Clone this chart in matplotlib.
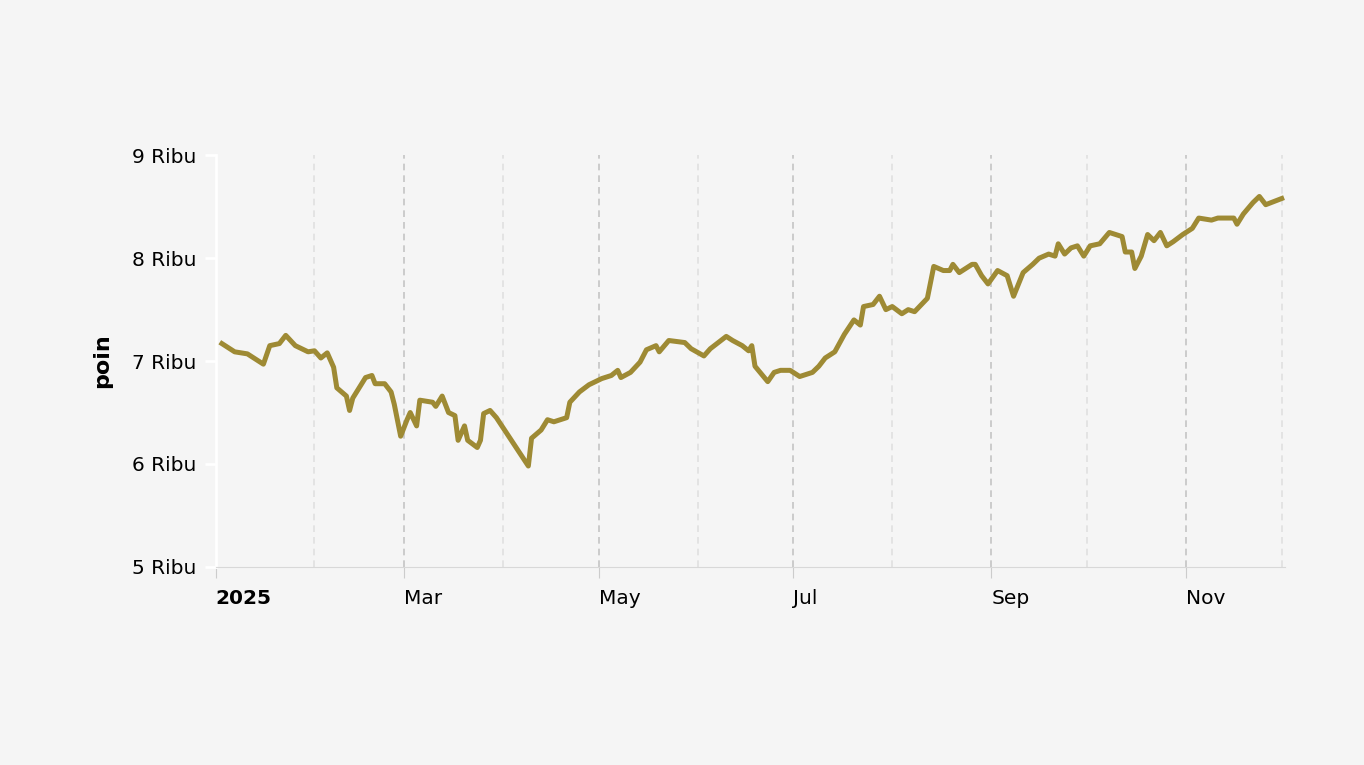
import matplotlib
matplotlib.use("Agg")
import matplotlib.pyplot as plt
import matplotlib.transforms as mtransforms
import pandas as pd

day_offsets = [2,6,10,13,15,17,20,22,25,29,31,33,35,37,38,41,42,43,45,47,49,50,53,55,56,58,60,61,63,64,68,69,71,73,75,76,78,79,82,83,84,86,88,98,99,102,104,106,110,111,114,117,121,124,126,127,130,133,135,138,139,142,147,149,153,155,160,162,165,167,168,169,173,175,177,180,183,187,189,191,194,197,200,202,203,206,208,210,212,215,217,219,223,225,228,230,231,233,235,237,238,240,242,245,248,250,253,256,258,261,263,264,266,268,270,272,274,277,280,284,285,287,288,290,292,294,296,298,300,303,306,308,312,314,319,320,322,325,327,329,334]
values = [7.17,7.09,7.07,7.01,6.97,7.15,7.17,7.25,7.15,7.09,7.10,7.03,7.08,6.94,6.74,6.66,6.52,6.64,6.74,6.84,6.86,6.78,6.78,6.70,6.58,6.27,6.43,6.50,6.37,6.62,6.60,6.56,6.66,6.50,6.47,6.23,6.37,6.23,6.16,6.23,6.49,6.52,6.45,5.98,6.25,6.33,6.43,6.41,6.45,6.60,6.70,6.77,6.83,6.86,6.91,6.84,6.89,6.99,7.11,7.15,7.09,7.20,7.18,7.12,7.05,7.12,7.24,7.20,7.15,7.10,7.15,6.95,6.80,6.89,6.91,6.91,6.85,6.89,6.95,7.03,7.09,7.26,7.40,7.35,7.53,7.55,7.63,7.50,7.53,7.46,7.50,7.48,7.61,7.92,7.88,7.88,7.94,7.86,7.90,7.94,7.94,7.83,7.75,7.88,7.83,7.63,7.86,7.94,8.00,8.04,8.02,8.14,8.04,8.10,8.12,8.02,8.12,8.14,8.25,8.21,8.06,8.06,7.90,8.02,8.23,8.17,8.25,8.12,8.16,8.23,8.29,8.39,8.37,8.39,8.39,8.33,8.43,8.54,8.60,8.52,8.58]
values = [v * 1000 for v in values]
y_ticks = [5000, 6000, 7000, 8000, 9000]
y_labels = ["5 Ribu", "6 Ribu", "7 Ribu", "8 Ribu", "9 Ribu"]
major_months = ["2025-03-01", "2025-05-01", "2025-07-01", "2025-09-01", "2025-11-01"]
minor_months = ["2025-02-01", "2025-04-01", "2025-06-01", "2025-08-01", "2025-10-01", "2025-12-01"]
major_labels = ["Mar", "May", "Jul", "Sep", "Nov"]

start = pd.Timestamp("2025-01-01")
dates = [start + pd.Timedelta(days=d) for d in day_offsets]

bg = "#f5f5f5"
plt.rcParams['font.family'] = ['DejaVu Sans']
fig = plt.figure(figsize=(13.64, 7.65), dpi=100, facecolor=bg)
ax = fig.add_axes([0.158, 0.259, 0.784, 0.538], facecolor=bg)

for m in major_months:
    ax.axvline(pd.Timestamp(m), color="#c4c4c4", lw=1.2, ls=(0, (4, 3)), zorder=0)
for m in minor_months:
    ax.axvline(pd.Timestamp(m), color="#e0e0e0", lw=1.2, ls=(0, (4, 3)), zorder=0)

ax.plot(dates, values, color="#9e8a34", lw=3.6, solid_joinstyle="round", zorder=3)

ax.set_xlim(start, pd.Timestamp("2025-12-02"))
ax.set_ylim(5000, 9000)
ax.set_yticks(y_ticks)
ax.set_yticklabels(y_labels, fontsize=14.5)
ax.set_xticks([start] + [pd.Timestamp(m) for m in major_months])
ax.set_xticklabels(["2025"] + major_labels, fontsize=14.5)
offset = mtransforms.ScaledTranslation(8 / 100, 0, fig.dpi_scale_trans)
for i, t in enumerate(ax.get_xticklabels()):
    t.set_horizontalalignment("left")
    t.set_transform(t.get_transform() + offset)
    if i == 0:
        t.set_fontweight("bold")
ax.tick_params(axis="x", length=8, color="#cccccc", pad=8)
ax.tick_params(axis="y", length=8, color="white", width=2, pad=6)
for s in ["top", "right"]:
    ax.spines[s].set_visible(False)
ax.spines["left"].set_color("white")
ax.spines["left"].set_linewidth(2)
ax.spines["bottom"].set_color("#d8d8d8")
ax.set_ylabel("poin", fontsize=16, fontweight="bold", labelpad=14)

fig.savefig("out.png", dpi=100, facecolor=bg)
